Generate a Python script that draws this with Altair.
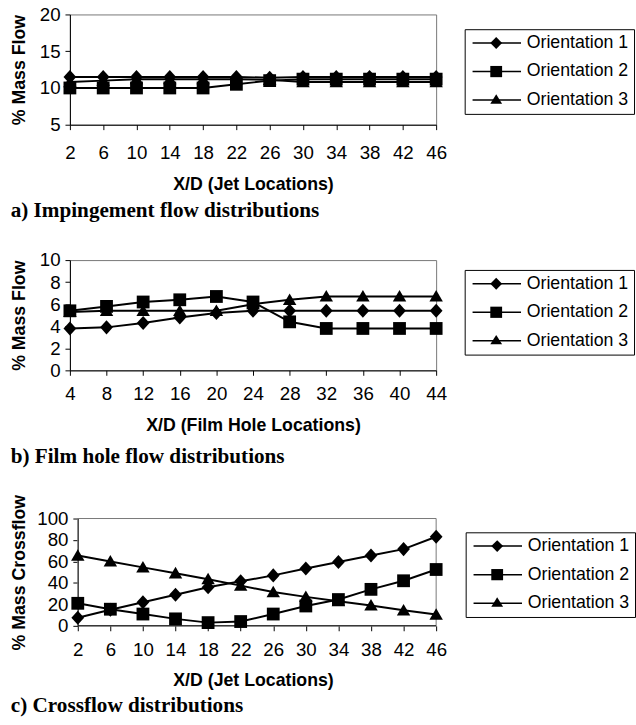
import altair as alt
import pandas as pd

SERIES = ["Orientation 1", "Orientation 2", "Orientation 3"]

# a) Impingement flow distributions
xa = [2, 6, 10, 14, 18, 22, 26, 30, 34, 38, 42, 46]
a_o1 = [11.5, 11.5, 11.5, 11.5, 11.5, 11.5, 11.4, 11.5, 11.5, 11.5, 11.5, 11.5]
a_o2 = [10.0, 10.0, 10.0, 10.0, 10.0, 10.5, 11.0, 11.2, 11.2, 11.2, 11.2, 11.2]
a_o3 = [10.8, 11.0, 11.2, 11.2, 11.2, 11.2, 11.1, 10.8, 10.8, 10.8, 10.8, 10.8]

# b) Film hole flow distributions
xb = [4, 8, 12, 16, 20, 24, 28, 32, 36, 40, 44]
b_o1 = [3.8, 3.9, 4.3, 4.8, 5.2, 5.4, 5.4, 5.4, 5.4, 5.4, 5.4]
b_o2 = [5.4, 5.8, 6.2, 6.4, 6.7, 6.2, 4.4, 3.8, 3.8, 3.8, 3.8]
b_o3 = [5.3, 5.4, 5.4, 5.4, 5.4, 6.0, 6.4, 6.7, 6.7, 6.7, 6.7]

# c) Crossflow distributions
xc = [2, 6, 10, 14, 18, 22, 26, 30, 34, 38, 42, 46]
c_o1 = [7.5, 15, 22, 29, 36, 41.5, 47, 53.5, 59.5, 65.5, 71.5, 83]
c_o2 = [21, 15.5, 11, 6.5, 3, 4, 11, 18.5, 24.5, 34, 42, 52.5]
c_o3 = [65.5, 60, 54.5, 49, 43.5, 37.5, 31.5, 27, 23, 19, 14.5, 10.5]

MARKERS = [
    "M0,-1.1L1,0L0,1.1L-1,0Z",
    "M-1,-1H1V1H-1Z",
    "M0,-1L1.05,0.8H-1.05Z",
]
LEG_MARKERS = [
    "M3,-1L4,0L3,1L2,0Z",
    "M2,-0.95H4V0.95H2Z",
    "M3,-1L4,0.6H2Z",
]
LEG_LINE = "M-1,0H7.2"

FONT = "Liberation Sans"
FRAME = "#777"


def legend(lx, ly, boxed):
    extra = {"strokeColor": "black", "fillColor": "white"} if boxed else {"labelOpacity": 0}
    return alt.Legend(orient="none", legendX=lx, legendY=ly, title=None,
                      padding=5, labelFont=FONT, labelFontSize=18,
                      labelColor="black", labelOffset=40, rowPadding=11,
                      symbolSize=144, symbolStrokeWidth=1.5,
                      symbolFillColor="black", symbolStrokeColor="black",
                      symbolOpacity=1, **extra)


def panel(xs, ys_list, xtitle, ytitle, caption, ydom, yvals, w, h, lx, ly,
          lab_pad, xt_pad, yt_pad, cap_off, inset=0):
    rows = []
    for s, ys in zip(SERIES, ys_list):
        for x, y in zip(xs, ys):
            rows.append({"x": x, "y": y, "series": s, "legend": s, "legline": s})
    df = pd.DataFrame(rows)
    span = xs[-1] - xs[0]
    x0 = xs[0] - inset * span / (w - inset)
    xenc = alt.X("x:Q",
                 scale=alt.Scale(domain=[x0, xs[-1]], nice=False, zero=False),
                 axis=alt.Axis(values=xs, title=xtitle, grid=False,
                               labelPadding=lab_pad, titlePadding=xt_pad,
                               labelFlush=False, domain=(inset == 0)))
    yenc = alt.Y("y:Q",
                 scale=alt.Scale(domain=ydom, nice=False, zero=False),
                 axis=alt.Axis(values=yvals, title=ytitle, grid=False,
                               titlePadding=yt_pad, offset=-inset))
    base = alt.Chart(df)
    layers = []
    if inset:
        fdf = pd.DataFrame({"x": [xs[0]], "x2": [xs[-1]],
                            "y": [ydom[0]], "y2": [ydom[1]]})
        fbase = alt.Chart(fdf)
        layers.append(fbase.mark_rect(fill="transparent", stroke=FRAME,
                                      strokeWidth=1).encode(
            x=xenc, x2="x2:Q", y=yenc, y2="y2:Q"))
        layers.append(fbase.mark_rule(color="black", strokeWidth=1).encode(
            x=xenc, x2="x2:Q", y=yenc))
    lines = base.mark_line(color="black", strokeWidth=2).encode(
        x=xenc, y=yenc, detail="series:N")
    pts = base.mark_point(filled=True, color="black", opacity=1, size=169,
                          strokeWidth=0).encode(
        x=xenc, y=yenc,
        shape=alt.Shape("series:N",
                        scale=alt.Scale(domain=SERIES, range=MARKERS),
                        legend=None))
    leg_m = base.transform_filter("false").mark_point(
        filled=True, color="black", opacity=1, size=144).encode(
        x=xenc, y=yenc,
        shape=alt.Shape("legend:N",
                        scale=alt.Scale(domain=SERIES, range=LEG_MARKERS),
                        legend=legend(lx, ly, True)))
    leg_l = base.transform_filter("false").mark_point(
        filled=False, color="black", opacity=1, size=144, strokeWidth=1.5).encode(
        x=xenc, y=yenc,
        shape=alt.Shape("legline:N",
                        scale=alt.Scale(domain=SERIES, range=[LEG_LINE] * 3),
                        legend=legend(lx, ly, False)))
    layers += [lines, pts, leg_m, leg_l]
    props = dict(
        width=w, height=h,
        title=alt.TitleParams(caption, orient="bottom", anchor="start",
                              frame="bounds", font="Liberation Serif",
                              fontSize=21.5, fontWeight="bold", color="black",
                              offset=cap_off))
    if inset:
        props["view"] = alt.ViewConfig(stroke="transparent")
    return alt.layer(*layers).resolve_scale(shape="independent").properties(**props)


pa = panel(xa, [a_o1, a_o2, a_o3], "X/D (Jet Locations)", "% Mass Flow",
           "a) Impingement flow distributions", [5, 20], [5, 10, 15, 20],
           372, 112, 401, 15, 14.5, 13, 11, 7)
pb = panel(xb, [b_o1, b_o2, b_o3], "X/D (Film Hole Locations)", "% Mass Flow",
           "b) Film hole flow distributions", [0, 10], [0, 2, 4, 6, 8, 10],
           372, 112, 401, 10, 9.5, 13.5, 11, 12)
pc = panel(xc, [c_o1, c_o2, c_o3], "X/D (Jet Locations)", "% Mass Crossflow",
           "c) Crossflow distributions", [0, 100], [0, 20, 40, 60, 80, 100],
           372, 109, 402, 14, 10.5, 12.5, 8.3, 6, inset=8)

inner = alt.vconcat(pb, pc, spacing=25.5)
chart = alt.vconcat(pa, inner, spacing=28.5).properties(
    padding={"left": 10, "top": -1, "right": 0, "bottom": 0}
).configure_view(stroke=FRAME, strokeWidth=1).configure_axis(
    labelFont=FONT, labelFontSize=19, labelColor="black",
    titleFont=FONT, titleFontSize=18, titleFontWeight="bold", titleColor="black",
    domainColor="black", tickColor="black", tickSize=5, grid=False
).configure_axisY(labelPadding=5)

chart.save("out.html", embed_options={"renderer": "svg", "actions": False})
